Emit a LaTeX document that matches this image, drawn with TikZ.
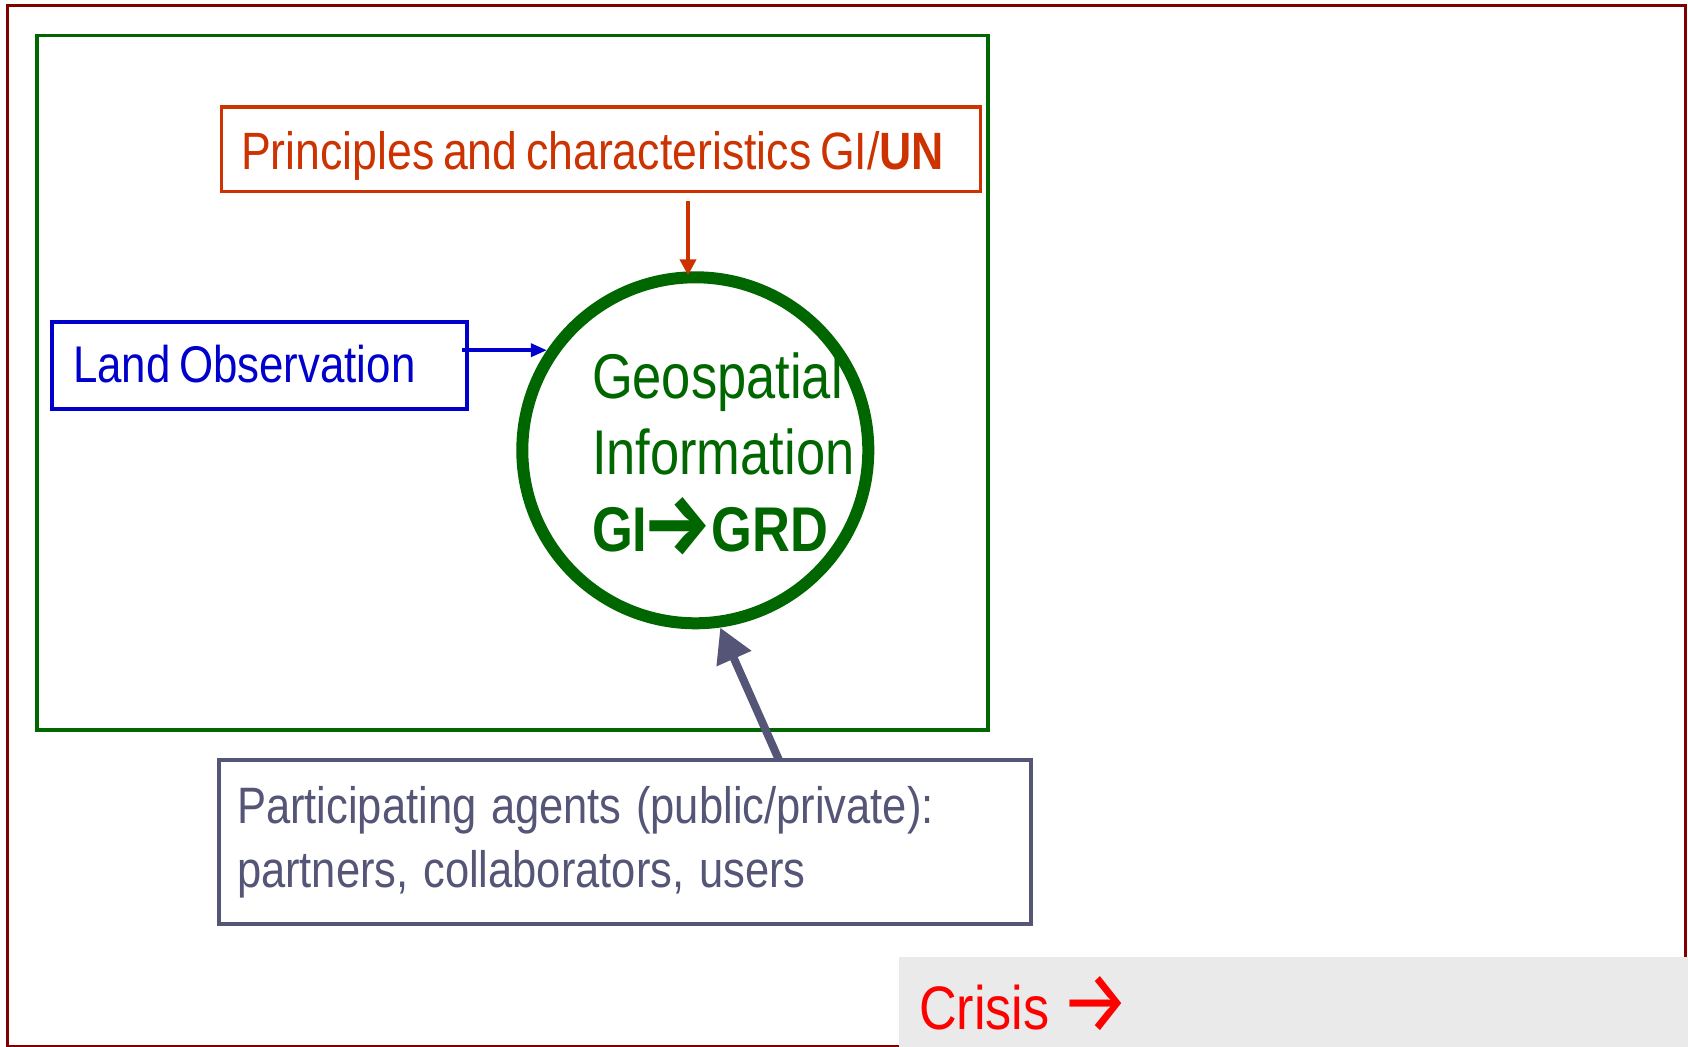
\documentclass[tikz,border=0pt]{standalone}
\usepackage{fontspec}
\usepackage{graphicx}
\setmainfont{Liberation Sans}
\newfontfamily\nsans{Liberation Sans}[FakeStretch=0.85,WordSpace=0.7]
\newfontfamily\gsans{Liberation Sans}[FakeStretch=0.83,WordSpace=0.7]
\newfontfamily\arrfont{Fira Sans}
\usetikzlibrary{arrows.meta,calc}
\definecolor{framered}{HTML}{800000}
\definecolor{gigreen}{HTML}{006600}
\definecolor{unorange}{HTML}{CC3300}
\definecolor{loblue}{HTML}{0000CC}
\definecolor{agentgrey}{HTML}{555577}
\definecolor{crisisbg}{HTML}{EAEAEA}
\definecolor{crisisred}{HTML}{FF0000}
\newcommand{\garrow}{\raisebox{-1.5pt}{\resizebox{35pt}{28.5pt}{\arrfont\bfseries →}}}
\newcommand{\carrow}{\raisebox{-1.5pt}{\resizebox{35pt}{28pt}{\arrfont →}}}
\begin{document}
\begin{tikzpicture}[x=0.5pt,y=-0.5pt,
  boxshape/.style={rectangle, draw, line width=1.6pt, inner sep=0pt, outer sep=0pt},
  lbl/.style={anchor=base west, inner sep=0pt, outer sep=0pt}]
\useasboundingbox (0,0) rectangle (1688,1047);
\fill[white] (0,0) rectangle (1688,1047);
% outer frame and green frame
\draw[framered, line width=1.5pt] (7.5,5.5) rectangle (1685,1046);
\draw[gigreen, line width=1.75pt] (37,35.5) rectangle (988,730);
% boxes
\node[boxshape, draw=unorange, minimum width=379.5pt, minimum height=42.25pt] (unbox) at (601,149.25) {};
\node[boxshape, draw=loblue, minimum width=207.5pt, minimum height=43.5pt] (lobox) at (259.5,365.5) {};
\node[boxshape, draw=agentgrey, line width=2pt, minimum width=406pt, minimum height=82pt] (agbox) at (625,842) {};
\node[rectangle, fill=crisisbg, inner sep=0pt, outer sep=0pt, minimum width=394.5pt, minimum height=45pt] (crbox) at (1293.5,1002) {};
% circle
\node[circle, draw=gigreen, line width=6pt, minimum size=173pt, inner sep=0pt] (geo) at (695.3,450.3) {};
% texts
\node[lbl, text=unorange, font=\nsans\fontsize{26.25pt}{30pt}\selectfont] (untext) at (241,169.3) {Principles and characteristics GI/\textbf{UN}};
\node[lbl, text=loblue, font=\nsans\fontsize{25.8pt}{30pt}\selectfont] (lotext) at (73,382.7) {Land Observation};
\node[lbl, text=gigreen, text width=150pt, align=left, font=\gsans\fontsize{31.6pt}{38.35pt}\selectfont] (geotext) at (592,398.3) {Geospatial\\Information\\\textbf{GI\hspace{-2.2pt}\garrow\hspace{-0.6pt}GRD}};
\node[lbl, text=agentgrey, text width=420pt, align=left, font=\nsans\fontsize{25.6pt}{32pt}\selectfont] (agtext) at (237,823.3) {\spaceskip=7.3pt\xspaceskip=7.3pt\relax Participating agents (public/private):\\partners, collaborators, users};
\node[lbl, text=crisisred, font=\nsans\fontsize{30.7pt}{36pt}\selectfont] (crtext) at (919,1029.3) {Crisis\hspace{5.5pt}\carrow};
% connectors
\coordinate (unstart) at ($(unbox.south)+(87,9.5)$);
\draw[unorange, line width=2pt, -{Triangle[length=8pt,width=8pt]}] (unstart) -- ($(geo.north -| unstart)+(0,4)$);
\draw[loblue, line width=1.8pt, -{Triangle[length=8pt,width=6.5pt]}] ($(geo.146.5 -| lobox.east)+(-5,0)$) -- (geo.146.5);
\coordinate (agstart) at ($(agbox.north)+(154,0)$);
\draw[agentgrey, line width=4pt, -{Triangle[length=17pt,width=18pt]}] (agstart) -- (geo.-82.3);
\end{tikzpicture}
\end{document}
